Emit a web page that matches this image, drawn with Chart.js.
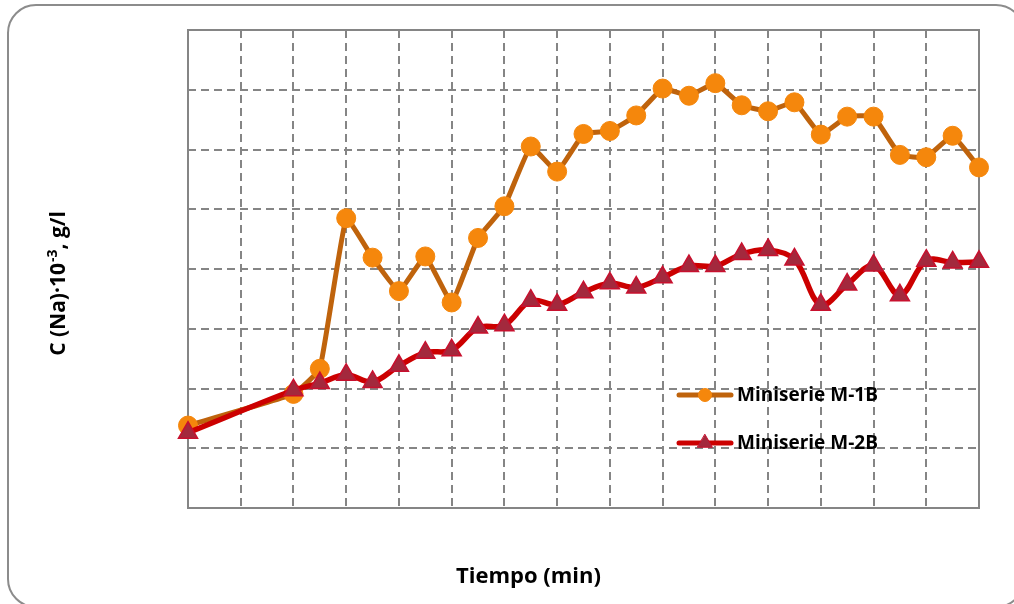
<!DOCTYPE html>
<html>
<head>
<meta charset="utf-8">
<script src="https://cdn.jsdelivr.net/npm/chart.js@4.4.1/dist/chart.umd.min.js"></script>
<style>
  html, body { margin: 0; padding: 0; background: #ffffff; }
  #wrap { width: 1014px; height: 604px; }
</style>
</head>
<body>
<div id="wrap"><canvas id="chart" width="1014" height="604"></canvas></div>
<script>
// Sampling times (grid units along the time axis)
const tiempo = [0, 2, 2.5, 3, 3.5, 4, 4.5, 5, 5.5, 6, 6.5, 7, 7.5, 8, 8.5, 9, 9.5,
                10, 10.5, 11, 11.5, 12, 12.5, 13, 13.5, 14, 14.5, 15];

// Sodium concentration, C(Na)·10^-3 g/l
const serieM1B = [1.38, 1.91, 2.33, 4.85, 4.19, 3.63, 4.21, 3.44, 4.52, 5.05, 6.05, 5.63, 6.26, 6.31,
                  6.57, 7.02, 6.90, 7.11, 6.74, 6.64, 6.79, 6.25, 6.55, 6.55, 5.91, 5.87, 6.23, 5.70];
const serieM2B = [1.26, 1.97, 2.09, 2.23, 2.11, 2.38, 2.60, 2.64, 3.02, 3.06, 3.47, 3.40, 3.61, 3.76,
                  3.69, 3.86, 4.05, 4.05, 4.25, 4.32, 4.16, 3.40, 3.74, 4.06, 3.56, 4.14, 4.11, 4.12];

const seriesNames = ['Miniserie M-1B', 'Miniserie M-2B'];
const xTitle = 'Tiempo (min)';
const yTitleParts = ['C (Na)\u00B710', '-3', ', g/l'];

const xRange = [0, 15];
const yRange = [0, 8];

const toPoints = (xs, ys) => xs.map((x, i) => ({ x: x, y: ys[i] }));

const GRID = '#858585';
const FONT = '"Open Sans", "Liberation Sans", sans-serif';

// Rounded outer frame + white background
const framePlugin = {
  id: 'frame',
  beforeDraw(chart) {
    const ctx = chart.ctx;
    ctx.save();
    ctx.fillStyle = '#ffffff';
    ctx.fillRect(0, 0, chart.width, chart.height);
    ctx.beginPath();
    ctx.roundRect(8, 5, 1016, 602, 28);
    ctx.strokeStyle = '#8c8c8c';
    ctx.lineWidth = 2;
    ctx.stroke();
    ctx.restore();
  },
  // solid outline of the plotting area, over the dashed grid
  beforeDatasetsDraw(chart) {
    const a = chart.chartArea;
    const ctx = chart.ctx;
    ctx.save();
    ctx.strokeStyle = GRID;
    ctx.lineWidth = 2;
    ctx.setLineDash([]);
    ctx.strokeRect(a.left, a.top, a.right - a.left, a.bottom - a.top);
    ctx.restore();
  }
};

// Axis titles and the in-plot legend
const labelsPlugin = {
  id: 'labels',
  afterDraw(chart) {
    const ctx = chart.ctx;
    const a = chart.chartArea;
    ctx.save();
    ctx.fillStyle = '#000000';
    ctx.textBaseline = 'alphabetic';

    // x title
    ctx.font = 'bold 22px ' + FONT;
    ctx.textAlign = 'center';
    ctx.fillText(xTitle, (a.left + a.right) / 2 - 55, 583);

    // y title with superscript exponent
    ctx.save();
    ctx.translate(65, 284);
    ctx.rotate(-Math.PI / 2);
    ctx.textAlign = 'left';
    const big = 'bold 21px ' + FONT;
    const small = 'bold 14px ' + FONT;
    ctx.font = big;
    const w0 = ctx.measureText(yTitleParts[0]).width;
    const w2 = ctx.measureText(yTitleParts[2]).width;
    ctx.font = small;
    const w1 = ctx.measureText(yTitleParts[1]).width;
    let x = -(w0 + w1 + w2) / 2;
    ctx.font = big;
    ctx.fillText(yTitleParts[0], x, 0);
    x += w0;
    ctx.font = small;
    ctx.fillText(yTitleParts[1], x + 1, -8);
    x += w1 + 1;
    ctx.font = big;
    ctx.fillText(yTitleParts[2], x, 0);
    ctx.restore();

    // legend
    const rows = [395, 443];
    chart.data.datasets.forEach((ds, i) => {
      const y = rows[i];
      ctx.save();
      ctx.strokeStyle = ds.borderColor;
      ctx.lineWidth = 5;
      ctx.lineCap = 'round';
      ctx.beginPath();
      ctx.moveTo(679, y);
      ctx.lineTo(731, y);
      ctx.stroke();
      ctx.fillStyle = ds.pointBackgroundColor;
      ctx.strokeStyle = ds.pointBorderColor;
      ctx.beginPath();
      if (ds.pointStyle === 'circle') {
        ctx.arc(705, y, 6.5, 0, Math.PI * 2);
      } else {
        const r = 8.5;
        ctx.moveTo(705, y - r);
        ctx.lineTo(705 + r * 0.866, y + r / 2);
        ctx.lineTo(705 - r * 0.866, y + r / 2);
        ctx.closePath();
      }
      ctx.fill();
      ctx.lineWidth = 1;
      ctx.stroke();
      ctx.restore();
      ctx.font = 'bold 19px ' + FONT;
      ctx.textAlign = 'left';
      ctx.textBaseline = 'middle';
      ctx.fillStyle = '#000000';
      ctx.fillText(ds.label, 737, y + 1);
    });
    ctx.restore();
  }
};

new Chart(document.getElementById('chart'), {
  type: 'line',
  data: {
    datasets: [
      {
        label: seriesNames[0],
        data: toPoints(tiempo, serieM1B),
        borderColor: '#bf630c',
        borderWidth: 5,
        tension: 0.1,
        pointStyle: 'circle',
        pointRadius: 9.5,
        pointBackgroundColor: '#f5870c',
        pointBorderColor: '#f5870c',
        pointBorderWidth: 1,
        clip: false,
        order: 2
      },
      {
        label: seriesNames[1],
        data: toPoints(tiempo, serieM2B),
        borderColor: '#cc0000',
        borderWidth: 5.5,
        tension: 0.35,
        pointStyle: 'triangle',
        pointRadius: 11,
        pointBackgroundColor: '#a3293d',
        pointBorderColor: '#c8102e',
        pointBorderWidth: 1.5,
        clip: false,
        order: 1
      }
    ]
  },
  options: {
    responsive: false,
    devicePixelRatio: 1,
    animation: false,
    layout: { padding: { left: 188, right: 35, top: 30, bottom: 96 }, autoPadding: false },
    plugins: { legend: { display: false }, tooltip: { enabled: false } },
    scales: {
      x: {
        type: 'linear',
        min: xRange[0], max: xRange[1],
        ticks: { display: false, stepSize: 1 },
        grid: { color: GRID, lineWidth: 2, drawTicks: false },
        border: { display: false, dash: [8, 5] }
      },
      y: {
        type: 'linear',
        min: yRange[0], max: yRange[1],
        ticks: { display: false, stepSize: 1 },
        grid: { color: GRID, lineWidth: 2, drawTicks: false },
        border: { display: false, dash: [8, 5] }
      }
    }
  },
  plugins: [framePlugin, labelsPlugin]
});
</script>
</body>
</html>
